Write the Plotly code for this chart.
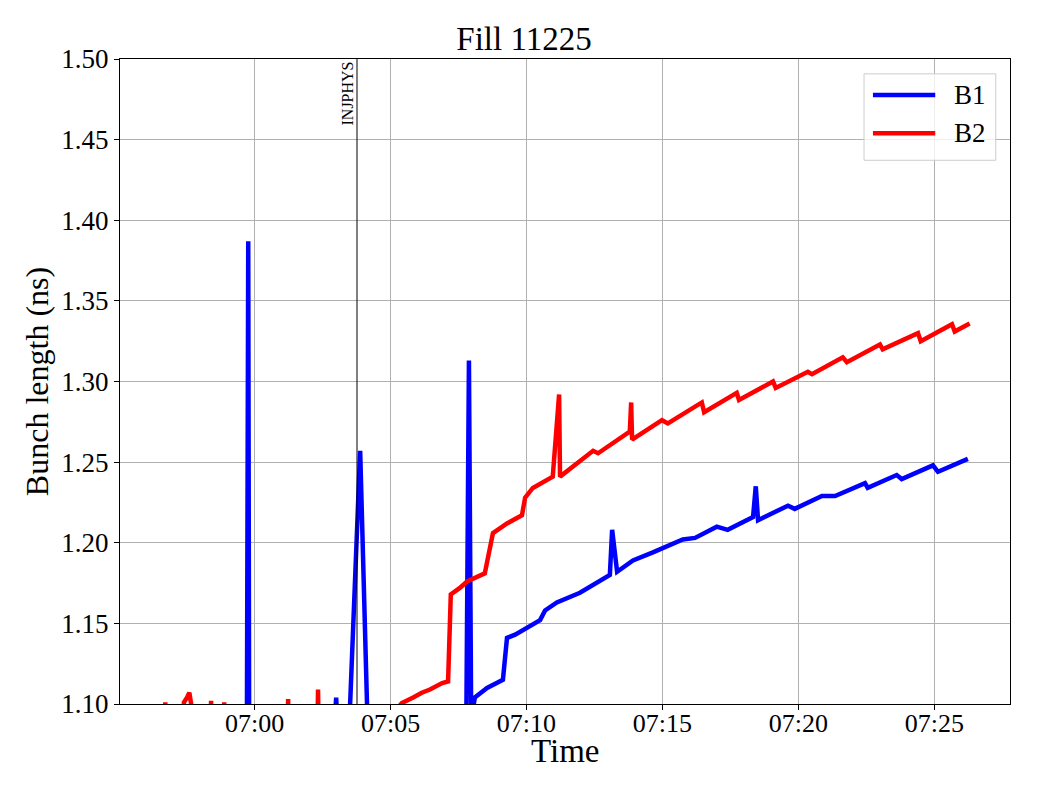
import plotly.graph_objects as go

DAY = "2025-07-01 "

b1_time = ["06:56:32", "06:59:43", "06:59:46", "06:59:48", "07:02:55", "07:03:00", "07:03:04",
           "07:03:28", "07:03:53", "07:04:10", "07:07:47", "07:07:53", "07:07:58", "07:08:06",
           "07:08:33", "07:09:08", "07:09:17", "07:09:35", "07:10:30", "07:10:41", "07:11:07",
           "07:11:58", "07:13:04", "07:13:09", "07:13:20", "07:13:55", "07:14:39", "07:15:45",
           "07:16:12", "07:17:00", "07:17:24", "07:18:20", "07:18:26", "07:18:31", "07:19:37",
           "07:19:52", "07:20:52", "07:21:21", "07:22:27", "07:22:33", "07:23:37", "07:23:48",
           "07:24:57", "07:25:08", "07:26:14"]
b1_len = [1.080, 1.080, 1.387, 1.080, 1.080, 1.104, 1.080,
          1.080, 1.257, 1.080, 1.080, 1.313, 1.090, 1.104,
          1.110, 1.115, 1.141, 1.143, 1.152, 1.158, 1.163,
          1.169, 1.180, 1.208, 1.182, 1.189, 1.194, 1.202,
          1.203, 1.210, 1.208, 1.216, 1.235, 1.214, 1.223,
          1.221, 1.229, 1.229, 1.237, 1.234, 1.242, 1.2395,
          1.248, 1.244, 1.252]

b2_time = ["06:56:38", "06:56:43", "06:56:47", "06:57:00", "06:57:02", "06:57:05", "06:57:20",
           "06:57:24", "06:57:31", "06:57:36", "06:57:40", "06:57:43", "06:58:21", "06:58:24",
           "06:58:27", "06:58:50", "06:58:53", "06:58:56", "07:01:11", "07:01:14", "07:01:17",
           "07:02:17", "07:02:20", "07:02:23", "07:05:08", "07:05:25", "07:05:50",
           "07:06:09", "07:06:27", "07:06:54", "07:07:07", "07:07:13", "07:07:33", "07:07:49",
           "07:08:28", "07:08:46", "07:09:17", "07:09:50", "07:09:57", "07:10:14", "07:10:58",
           "07:11:12", "07:11:14", "07:11:58", "07:12:27", "07:12:38", "07:13:48", "07:13:51",
           "07:13:53", "07:14:59", "07:15:12", "07:16:27", "07:16:32", "07:17:44", "07:17:49",
           "07:19:04", "07:19:10", "07:20:21", "07:20:30", "07:21:38", "07:21:47", "07:23:00",
           "07:23:06", "07:24:24", "07:24:30", "07:25:39", "07:25:45", "07:26:18"]
b2_len = [1.050, 1.101, 1.050, 1.050, 1.100, 1.050, 1.050,
          1.101, 1.104, 1.107, 1.100, 1.050, 1.050, 1.102,
          1.050, 1.050, 1.101, 1.050, 1.050, 1.103, 1.050,
          1.050, 1.109, 1.050, 1.095, 1.1006, 1.104,
          1.107, 1.109, 1.113, 1.114, 1.168, 1.172, 1.176,
          1.181, 1.206, 1.212, 1.217, 1.228, 1.234, 1.241,
          1.292, 1.241, 1.251, 1.257, 1.2555, 1.269, 1.287,
          1.264, 1.276, 1.274, 1.287, 1.281, 1.293, 1.2885,
          1.300, 1.296, 1.306, 1.3045, 1.315, 1.312, 1.323,
          1.320, 1.330, 1.325, 1.3355, 1.331, 1.336]

series_names = ["B1", "B2"]
series_colors = ["#0000ff", "#ff0000"]

marker_time = "07:03:46"
marker_label = "INJPHYS"
x_range = ["06:55:03", "07:27:47"]
y_range = [1.10, 1.50]

FONT = "Liberation Serif"
LW = 4.5

fig = go.Figure()
for name, color, t, v in [(series_names[0], series_colors[0], b1_time, b1_len),
                          (series_names[1], series_colors[1], b2_time, b2_len)]:
    fig.add_trace(go.Scatter(x=[DAY + s for s in t], y=v, mode="lines", name=name,
                             line=dict(color=color, width=LW), showlegend=False))

fig.add_shape(type="line", xref="x", yref="paper", x0=DAY + marker_time, x1=DAY + marker_time,
              y0=0, y1=1, line=dict(color="black", width=1))
fig.add_annotation(x=DAY + marker_time, y=1, xref="x", yref="paper", text=marker_label,
                   textangle=-90, showarrow=False, xanchor="right", yanchor="top",
                   xshift=0, yshift=-1, font=dict(family=FONT, size=16, color="black"))

# legend box (matplotlib style)
fig.add_shape(type="rect", xref="paper", yref="paper", x0=0.836, x1=0.984, y0=0.843, y1=0.977,
              line=dict(color="#cccccc", width=1), fillcolor="rgba(255,255,255,0.8)", layer="above")
for i, (name, color) in enumerate(zip(series_names, series_colors)):
    yy = 0.944 - i * 0.059
    fig.add_shape(type="line", xref="paper", yref="paper", x0=0.846, x1=0.916, y0=yy, y1=yy,
                  line=dict(color=color, width=LW), layer="above")
    fig.add_annotation(x=0.935, y=yy, xref="paper", yref="paper", text=name, showarrow=False,
                       xanchor="left", yanchor="middle",
                       font=dict(family=FONT, size=27, color="black"))

# x-axis title (placed explicitly)
fig.add_annotation(x=0.5, y=-0.073, xref="paper", yref="paper", text="Time", showarrow=False,
                   xanchor="center", yanchor="middle", font=dict(family=FONT, size=33, color="black"))

fig.update_layout(
    width=1032, height=792,
    paper_bgcolor="white", plot_bgcolor="white",
    margin=dict(l=112, r=30, t=51, b=96),
    font=dict(family=FONT, color="black"),
    title=dict(text="Fill 11225", x=0.5, xanchor="center", y=0.962, yanchor="middle",
               font=dict(family=FONT, size=33)),
    showlegend=False,
    xaxis=dict(range=[DAY + x_range[0], DAY + x_range[1]], type="date",
               tick0=DAY + "07:00:00", dtick=300000, tickformat="%H:%M",
               showgrid=True, gridcolor="#b0b0b0", gridwidth=1,
               showline=True, linecolor="black", linewidth=1, mirror=True,
               ticks="outside", ticklen=5, tickcolor="black",
               tickfont=dict(family=FONT, size=26), ticklabelstandoff=-9,
               zeroline=False),
    yaxis=dict(range=y_range, dtick=0.05, tickformat=".2f",
               showgrid=True, gridcolor="#b0b0b0", gridwidth=1,
               showline=True, linecolor="black", linewidth=1, mirror=True,
               ticks="outside", ticklen=5, tickcolor="black",
               tickfont=dict(family=FONT, size=27),
               title=dict(text="Bunch length (ns)", font=dict(family=FONT, size=32), standoff=3),
               zeroline=False),
)

fig.write_html("out.html")
